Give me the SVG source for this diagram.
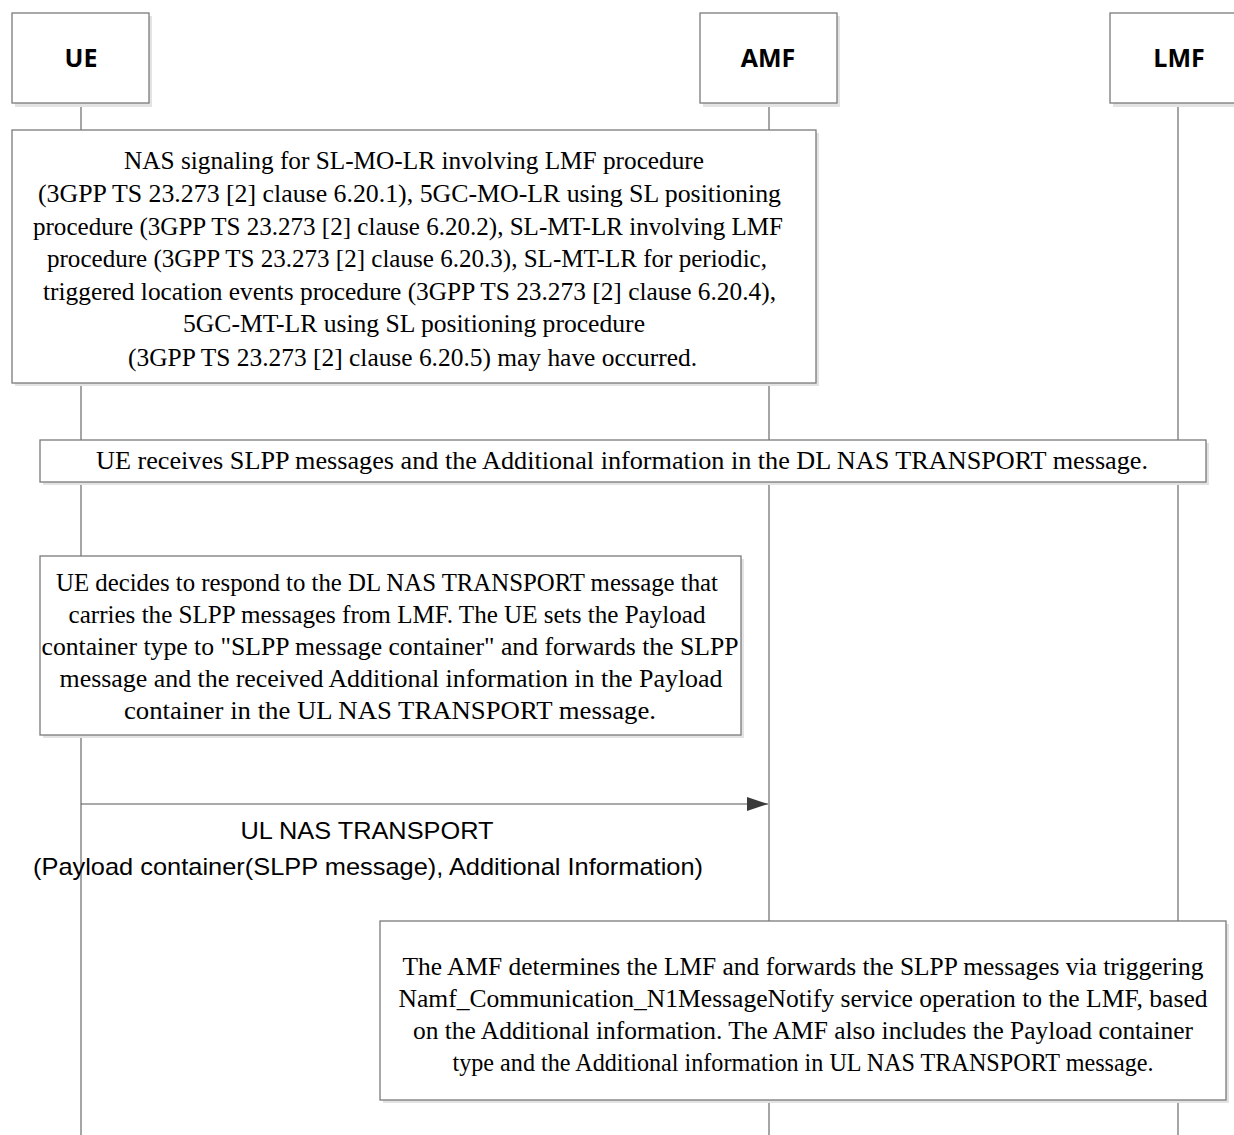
<svg xmlns="http://www.w3.org/2000/svg" width="1234" height="1135" viewBox="0 0 1234 1135">
<defs>
<style>
.box{fill:#fff;stroke:#7a7a7a;stroke-width:1.3}
.sh{fill:#e3e3e3}
.life{stroke:#6a6a6a;stroke-width:1.2;fill:none}
.ttl{font-family:"Open Sans","Noto Sans",sans-serif;font-weight:700;font-size:25px;fill:#000;text-anchor:middle}
.t{font-family:"Liberation Serif","Times New Roman",serif;font-size:25px;fill:#000;text-anchor:middle}
.s{font-family:"Liberation Sans",Arial,sans-serif;font-size:24px;fill:#000;text-anchor:middle}
</style>
<marker id="ah" markerWidth="22" markerHeight="14" refX="21" refY="7" orient="auto" markerUnits="userSpaceOnUse">
<path d="M0,0 L21,7 L0,14 Z" fill="#3a3a3a"/>
</marker>
</defs>
<rect width="1234" height="1135" fill="#fff"/>
<g id="lifelines">
<line class="life" x1="81" y1="103" x2="81" y2="1135"/>
<line class="life" x1="769" y1="103" x2="769" y2="1135"/>
<line class="life" x1="1178" y1="103" x2="1178" y2="1135"/>
</g>
<g id="node-ue">
<rect class="sh" x="15" y="16" width="137" height="91"/>
<rect class="box" x="12" y="13" width="137" height="90"/>
<text class="ttl" x="81" y="67">UE</text>
</g>
<g id="node-amf">
<rect class="sh" x="703" y="16" width="137" height="91"/>
<rect class="box" x="700" y="13" width="137" height="90"/>
<text class="ttl" x="768" y="67">AMF</text>
</g>
<g id="node-lmf">
<rect class="sh" x="1113" y="16" width="137" height="91"/>
<rect class="box" x="1110" y="13" width="137" height="90"/>
<text class="ttl" x="1179" y="67">LMF</text>
</g>
<g id="note-nas-signaling">
<rect class="sh" x="15" y="133" width="804" height="253"/>
<rect class="box" x="12" y="130" width="804" height="253"/>
<text class="t" x="414" y="169" textLength="580" lengthAdjust="spacingAndGlyphs">NAS signaling for SL-MO-LR involving LMF procedure</text>
<text class="t" x="409.5" y="202" textLength="743" lengthAdjust="spacingAndGlyphs">(3GPP TS 23.273 [2] clause 6.20.1), 5GC-MO-LR using SL positioning</text>
<text class="t" x="408" y="235" textLength="750" lengthAdjust="spacingAndGlyphs">procedure (3GPP TS 23.273 [2] clause 6.20.2), SL-MT-LR involving LMF</text>
<text class="t" x="407" y="267" textLength="720" lengthAdjust="spacingAndGlyphs">procedure (3GPP TS 23.273 [2] clause 6.20.3), SL-MT-LR for periodic,</text>
<text class="t" x="409.5" y="300" textLength="733" lengthAdjust="spacingAndGlyphs">triggered location events procedure (3GPP TS 23.273 [2] clause 6.20.4),</text>
<text class="t" x="414" y="332" textLength="462" lengthAdjust="spacingAndGlyphs">5GC-MT-LR using SL positioning procedure</text>
<text class="t" x="412.5" y="366" textLength="569" lengthAdjust="spacingAndGlyphs">(3GPP TS 23.273 [2] clause 6.20.5) may have occurred.</text>
</g>
<g id="note-ue-receives">
<rect class="sh" x="43" y="443" width="1166" height="42"/>
<rect class="box" x="40" y="440" width="1166" height="42"/>
<text class="t" x="622" y="469" textLength="1052" lengthAdjust="spacingAndGlyphs">UE receives SLPP messages and the Additional information in the DL NAS TRANSPORT message.</text>
</g>
<g id="note-ue-decides">
<rect class="sh" x="43" y="559" width="701" height="179"/>
<rect class="box" x="40" y="556" width="701" height="179"/>
<text class="t" x="387" y="591" textLength="662" lengthAdjust="spacingAndGlyphs">UE decides to respond to the DL NAS TRANSPORT message that</text>
<text class="t" x="387" y="623" textLength="637" lengthAdjust="spacingAndGlyphs">carries the SLPP messages from LMF. The UE sets the Payload</text>
<text class="t" x="390" y="655" textLength="697" lengthAdjust="spacingAndGlyphs">container type to "SLPP message container" and forwards the SLPP</text>
<text class="t" x="391" y="687" textLength="663" lengthAdjust="spacingAndGlyphs">message and the received Additional information in the Payload</text>
<text class="t" x="390" y="719" textLength="532" lengthAdjust="spacingAndGlyphs">container in the UL NAS TRANSPORT message.</text>
</g>
<g id="connectors">
<line x1="81" y1="804" x2="768" y2="804" stroke="#555" stroke-width="1.2" marker-end="url(#ah)"/>
<text class="s" x="367" y="839" textLength="253" lengthAdjust="spacingAndGlyphs">UL NAS TRANSPORT</text>
<text class="s" x="368" y="875" textLength="670" lengthAdjust="spacingAndGlyphs">(Payload container(SLPP message), Additional Information)</text>
</g>
<g id="note-amf-determines">
<rect class="sh" x="383" y="924" width="846" height="179"/>
<rect class="box" x="380" y="921" width="846" height="179"/>
<text class="t" x="803" y="975" textLength="801" lengthAdjust="spacingAndGlyphs">The AMF determines the LMF and forwards the SLPP messages via triggering</text>
<text class="t" x="803" y="1007" textLength="809" lengthAdjust="spacingAndGlyphs">Namf_Communication_N1MessageNotify service operation to the LMF, based</text>
<text class="t" x="803" y="1039" textLength="780" lengthAdjust="spacingAndGlyphs">on the Additional information. The AMF also includes the Payload container</text>
<text class="t" x="803" y="1071" textLength="701" lengthAdjust="spacingAndGlyphs">type and the Additional information in UL NAS TRANSPORT message.</text>
</g>
</svg>
